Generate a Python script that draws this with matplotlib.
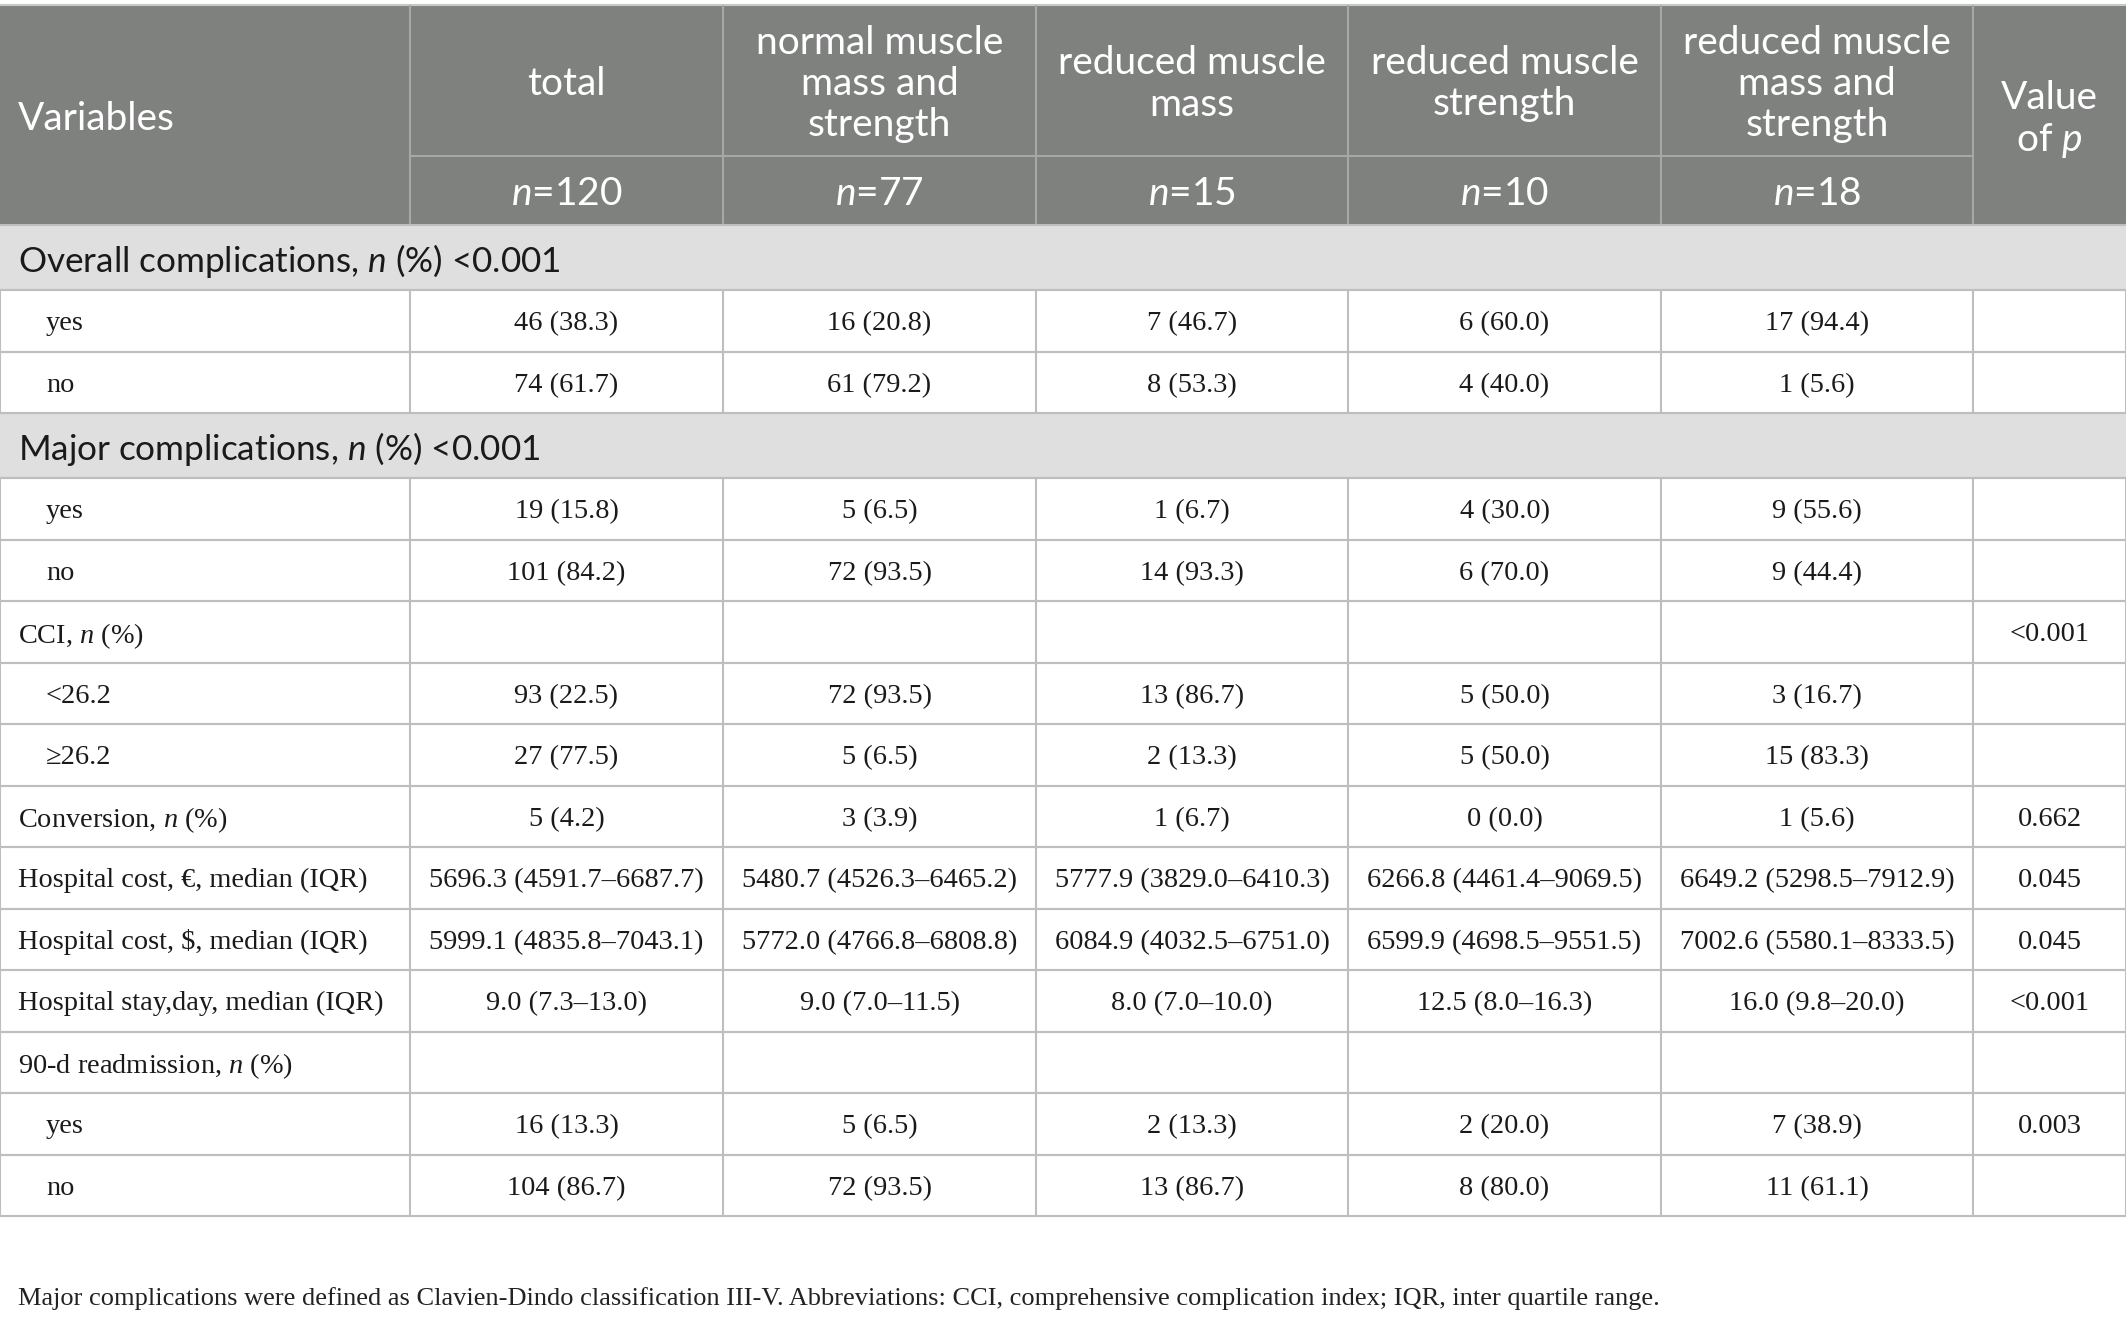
import matplotlib
matplotlib.use("Agg")
import matplotlib.pyplot as plt
from matplotlib.patches import Rectangle

# 표 데이터
group_names = ["total", "normal muscle\nmass and\nstrength", "reduced muscle\nmass",
               "reduced muscle\nstrength", "reduced muscle\nmass and\nstrength"]
group_n = ["120", "77", "15", "10", "18"]

row_labels = ["Overall complications, $\\mathsf{n}$ (%) <0.001", "yes", "no",
              "Major complications, $\\mathsf{n}$ (%) <0.001", "yes", "no",
              "CCI, $n$ (%)", "<26.2", "\u226526.2", "Conversion, $n$ (%)",
              "Hospital cost, \u20ac, median (IQR)", "Hospital cost, \\$, median (IQR)",
              "Hospital stay,day, median (IQR)", "90-d readmission, $n$ (%)", "yes", "no"]
row_kind = ["section", "sub", "sub", "section", "sub", "sub", "main", "sub", "sub",
            "main", "main", "main", "main", "main", "sub", "sub"]

total = ["", "46 (38.3)", "74 (61.7)", "", "19 (15.8)", "101 (84.2)", "", "93 (22.5)",
         "27 (77.5)", "5 (4.2)", "5696.3 (4591.7\u20136687.7)", "5999.1 (4835.8\u20137043.1)",
         "9.0 (7.3\u201313.0)", "", "16 (13.3)", "104 (86.7)"]
normal = ["", "16 (20.8)", "61 (79.2)", "", "5 (6.5)", "72 (93.5)", "", "72 (93.5)",
          "5 (6.5)", "3 (3.9)", "5480.7 (4526.3\u20136465.2)", "5772.0 (4766.8\u20136808.8)",
          "9.0 (7.0\u201311.5)", "", "5 (6.5)", "72 (93.5)"]
reduced_mass = ["", "7 (46.7)", "8 (53.3)", "", "1 (6.7)", "14 (93.3)", "", "13 (86.7)",
                "2 (13.3)", "1 (6.7)", "5777.9 (3829.0\u20136410.3)", "6084.9 (4032.5\u20136751.0)",
                "8.0 (7.0\u201310.0)", "", "2 (13.3)", "13 (86.7)"]
reduced_strength = ["", "6 (60.0)", "4 (40.0)", "", "4 (30.0)", "6 (70.0)", "", "5 (50.0)",
                    "5 (50.0)", "0 (0.0)", "6266.8 (4461.4\u20139069.5)", "6599.9 (4698.5\u20139551.5)",
                    "12.5 (8.0\u201316.3)", "", "2 (20.0)", "8 (80.0)"]
reduced_both = ["", "17 (94.4)", "1 (5.6)", "", "9 (55.6)", "9 (44.4)", "", "3 (16.7)",
                "15 (83.3)", "1 (5.6)", "6649.2 (5298.5\u20137912.9)", "7002.6 (5580.1\u20138333.5)",
                "16.0 (9.8\u201320.0)", "", "7 (38.9)", "11 (61.1)"]
p_values = ["", "", "", "", "", "", "<0.001", "", "", "0.662", "0.045", "0.045",
            "<0.001", "", "0.003", ""]

footnote = ("Major complications were defined as Clavien-Dindo classification III-V. "
            "Abbreviations: CCI, comprehensive complication index; IQR, inter quartile range.")

# 레이아웃 (픽셀 단위)
W, H = 2126, 1317
col_edges = [0, 410, 723, 1036, 1348, 1661, 1973, 2126]
top, head1, head2 = 5, 156, 225
sec_h, row_h = 65, 61.5

header_bg = "#7f817f"
header_line = "#a6a8a6"
section_bg = "#e0dfe0"
grid = "#bebebe"
txt = "#1a1a1a"

sans = "Lato"
serif = "Liberation Serif"
plt.rcParams["mathtext.fontset"] = "custom"
plt.rcParams["mathtext.it"] = serif + ":italic"
plt.rcParams["mathtext.rm"] = serif
plt.rcParams["mathtext.sf"] = sans + ":italic"

fig = plt.figure(figsize=(W / 100, H / 100), dpi=100)
ax = fig.add_axes([0, 0, 1, 1])
ax.set_xlim(0, W)
ax.set_ylim(H, 0)
ax.axis("off")

hs = 28     # 헤더 글자 크기
ss = 25.3   # 구분행 글자 크기
bs = 20.4   # 본문 글자 크기
lw = 1.5

# 헤더
ax.add_patch(Rectangle((0, top), W, head2 - top, color=header_bg, lw=0))
ax.hlines(top, 0, W, color="#c8c8c8", lw=lw)
ax.vlines(col_edges[1:-1], top, head2, color=header_line, lw=lw)
ax.hlines(head1, col_edges[1], col_edges[-2], color=header_line, lw=lw)

ax.text(18, (top + head2) / 2, "Variables", color="white", fontsize=hs,
        family=sans, ha="left", va="center_baseline")
for i, name in enumerate(group_names):
    cx = (col_edges[i + 1] + col_edges[i + 2]) / 2
    lines = name.split("\n")
    cy = (top + head1) / 2
    for j, ln in enumerate(lines):
        y = cy + (j - (len(lines) - 1) / 2) * 41
        ax.text(cx, y, ln, color="white", fontsize=hs, family=sans,
                ha="center", va="center_baseline")
    ax.text(cx, (head1 + head2) / 2, "$\\mathsf{n}$=" + group_n[i], color="white",
            fontsize=hs, family=sans, ha="center", va="center_baseline")
pcx = (col_edges[-2] + col_edges[-1]) / 2
for j, ln in enumerate(["Value", "of $\\mathsf{p}$"]):
    ax.text(pcx, (top + head2) / 2 + (j - 0.5) * 41, ln, color="white", fontsize=hs,
            family=sans, ha="center", va="center_baseline")

# 본문
columns = [total, normal, reduced_mass, reduced_strength, reduced_both, p_values]
y0 = head2
for r, label in enumerate(row_labels):
    h = sec_h if row_kind[r] == "section" else row_h
    y1 = y0 + h
    cy = (y0 + y1) / 2
    if row_kind[r] == "section":
        ax.add_patch(Rectangle((0, y0), W, h, color=section_bg, lw=0))
        ax.text(18, cy, label, color=txt, fontsize=ss, family=sans,
                ha="left", va="center_baseline")
    else:
        ax.vlines(col_edges, y0, y1, color=grid, lw=lw)
        x = 46 if row_kind[r] == "sub" else 18
        ax.text(x, cy, label, color=txt, fontsize=bs, family=serif,
                ha="left", va="center_baseline")
        for c, col in enumerate(columns):
            cx = (col_edges[c + 1] + col_edges[c + 2]) / 2
            ax.text(cx, cy, col[r], color=txt, fontsize=bs, family=serif,
                    ha="center", va="center_baseline")
    ax.hlines([y0, y1], 0, W, color=grid, lw=lw)
    y0 = y1

ax.text(18, 1296, footnote, color="#222222", fontsize=19, family=serif,
        ha="left", va="center_baseline")

fig.savefig("out.png", dpi=100)
